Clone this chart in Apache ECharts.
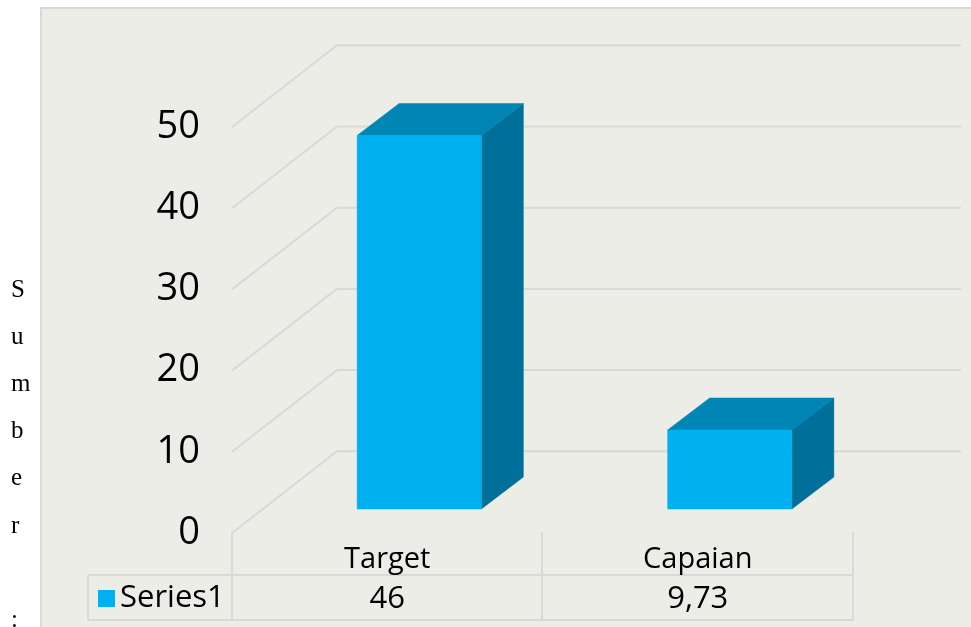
<!DOCTYPE html>
<html>
<head>
<meta charset="utf-8">
<style>html,body{margin:0;padding:0;background:#fff}#c{width:971px;height:627px}</style>
<script src="https://cdn.jsdelivr.net/npm/echarts@6/dist/echarts.min.js"></script>
</head>
<body>
<div id="c"></div>
<script>
const categories = ['Target', 'Capaian'];
const seriesName = 'Series1';
const values = [46, 9.73];
const tableLabels = ['46', '9,73'];
const yTicks = [0, 10, 20, 30, 40, 50];
const sideNote = ['S', 'u', 'm', 'b', 'e', 'r', ' ', ':'];

const COL = { panel:'#ECEDE6', line:'#D9D9D9', front:'#00B0F0', top:'#0085B5', side:'#00709A', text:'#000000' };
const WALL = { dx:105, dy:81.7, right:961 };
const BAR = { frontDx:32, frontDy:24, depthDx:42, depthDy:32, ratio:0.4 };
const FONT = '"Open Sans", Arial, sans-serif';

const chart = echarts.init(document.getElementById('c'), null, { renderer:'canvas' });

function lineEl(x1, y1, x2, y2) {
  return { type:'line', shape:{x1,y1,x2,y2}, style:{stroke:COL.line, lineWidth:2, fill:null}, silent:true };
}
function renderGrid(params, api) {
  const v = api.value(0);
  const p = api.coord([0, v]);
  const x0 = params.coordSys.x;
  const y = p[1];
  return { type:'group', children:[
    lineEl(x0, y, x0 + WALL.dx, y - WALL.dy),
    lineEl(x0 + WALL.dx, y - WALL.dy, WALL.right, y - WALL.dy)
  ]};
}
function renderBar(params, api) {
  const c = api.value(0), v = api.value(1);
  const top = api.coord([c, v]), base = api.coord([c, 0]);
  const w = api.size([1, 0])[0] * BAR.ratio;
  const l = top[0] + BAR.frontDx - w / 2, r = l + w;
  const t = top[1] - BAR.frontDy, b = base[1] - BAR.frontDy;
  const dx = BAR.depthDx, dy = BAR.depthDy;
  const poly = (pts, fill) => ({ type:'polygon', shape:{points:pts}, style:{fill, stroke:fill, lineWidth:0.5} });
  return { type:'group', children:[
    poly([[r,t],[r+dx,t-dy],[r+dx,b-dy],[r,b]], COL.side),
    poly([[l,t],[l+dx,t-dy],[r+dx,t-dy],[r,t]], COL.top),
    poly([[l,t],[r,t],[r,b],[l,b]], COL.front)
  ]};
}

const chrome = [
  { type:'rect', shape:{x:41,y:8,width:1000,height:700}, style:{fill:COL.panel, stroke:COL.line, lineWidth:2}, silent:true },
  { type:'line', shape:{x1:88,y1:575,x2:853,y2:575}, style:{stroke:COL.line, lineWidth:2} },
  { type:'line', shape:{x1:88,y1:620,x2:853,y2:620}, style:{stroke:COL.line, lineWidth:2} },
  { type:'line', shape:{x1:88,y1:575,x2:88,y2:620}, style:{stroke:COL.line, lineWidth:2} },
  { type:'line', shape:{x1:232,y1:532,x2:232,y2:620}, style:{stroke:COL.line, lineWidth:2} },
  { type:'line', shape:{x1:542,y1:532,x2:542,y2:620}, style:{stroke:COL.line, lineWidth:2} },
  { type:'line', shape:{x1:853,y1:532,x2:853,y2:620}, style:{stroke:COL.line, lineWidth:2} }
];
sideNote.forEach((ch, i) => {
  chrome.push({ type:'text', x:11, y:290 + i * 47.2,
    style:{ text:ch, fill:COL.text, font:'25px "Liberation Serif", serif', textAlign:'left', textVerticalAlign:'middle' } });
});

chart.setOption({
  animation:false,
  backgroundColor:'#ffffff',
  graphic:{ elements:chrome },
  legend:{
    data:[seriesName], left:98, top:583, itemWidth:17, itemHeight:17, icon:'rect',
    padding:0, textStyle:{ fontFamily:FONT, fontSize:31, color:COL.text }
  },
  grid:{ left:232, top:127, width:621, height:406, containLabel:false },
  xAxis:{
    type:'category', data:categories,
    axisLine:{show:false}, axisTick:{show:false}, splitLine:{show:false},
    axisLabel:{
      margin:8, interval:0,
      formatter:(v, i) => '{c|' + v + '}\n{v|' + tableLabels[i] + '}',
      rich:{
        c:{ fontFamily:FONT, fontSize:29, color:COL.text, lineHeight:38, align:'center' },
        v:{ fontFamily:FONT, fontSize:31, color:COL.text, lineHeight:41, align:'center' }
      }
    }
  },
  yAxis:{
    type:'value', min:0, max:50, interval:10,
    axisLine:{show:false}, axisTick:{show:false}, splitLine:{show:false},
    axisLabel:{ margin:32, fontFamily:FONT, fontSize:38, color:COL.text, padding:[7,0,0,0] }
  },
  series:[
    { type:'custom', name:'grid', z:1, silent:true, renderItem:renderGrid, data:yTicks.map(t => [t]),
      encode:{ y:0 } },
    { type:'custom', name:seriesName, z:3, renderItem:renderBar, itemStyle:{color:COL.front},
      data:values.map((v, i) => [i, v]), encode:{ x:0, y:1 } }
  ]
});
</script>
</body>
</html>
